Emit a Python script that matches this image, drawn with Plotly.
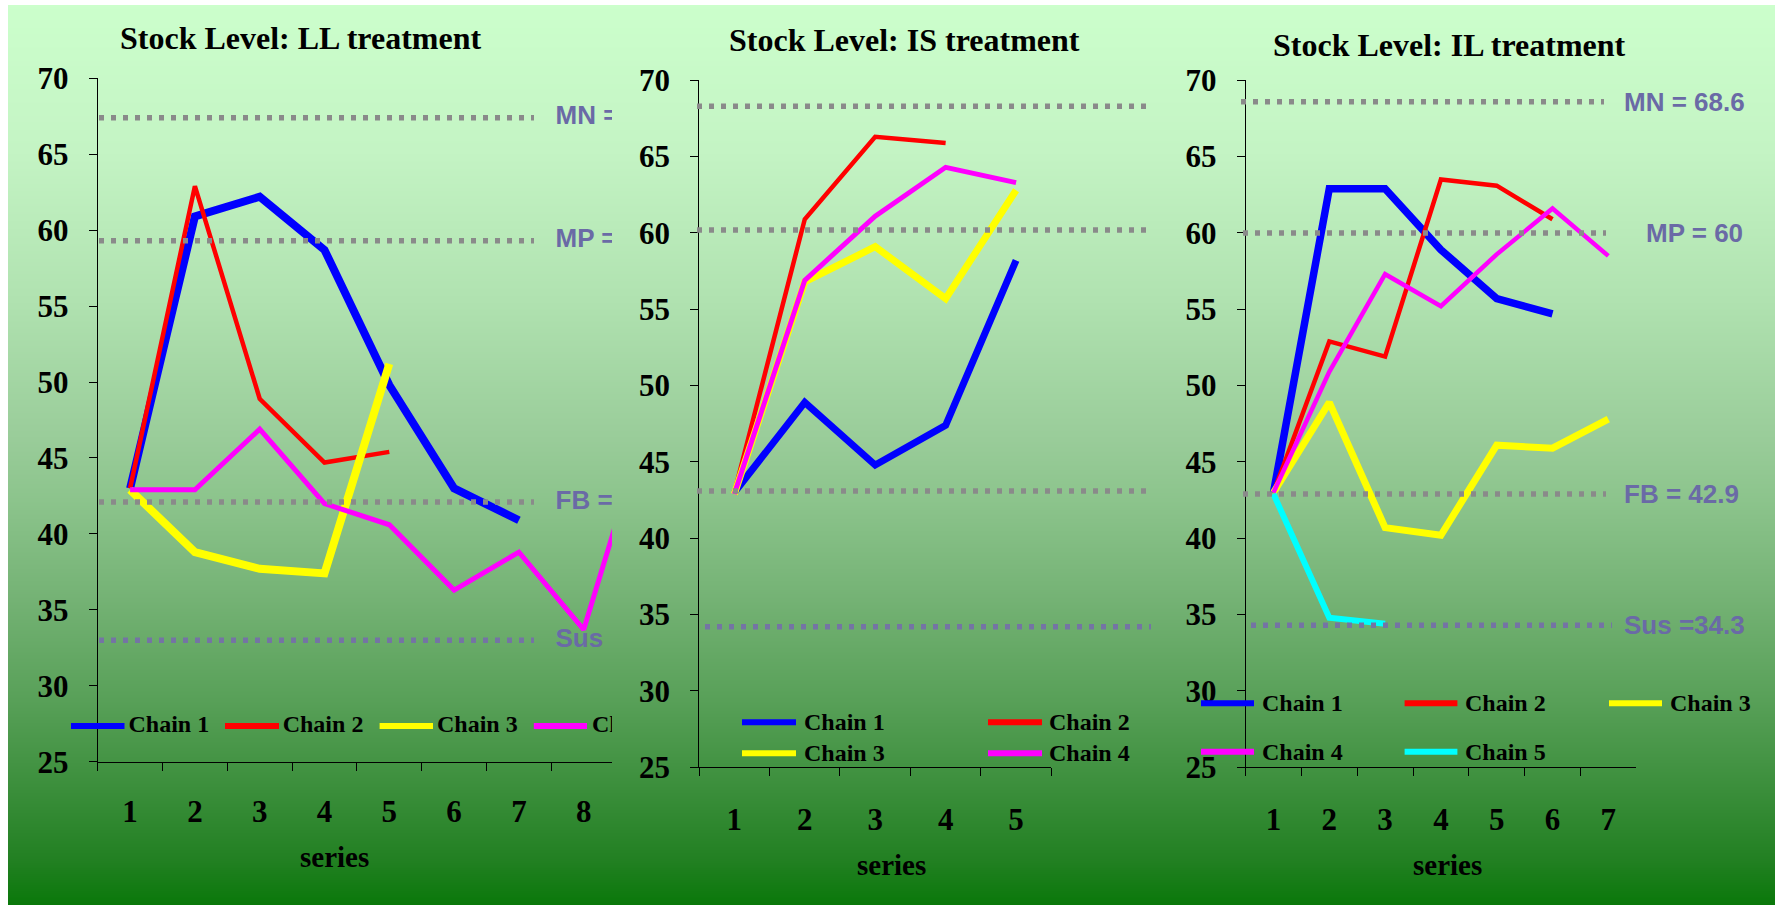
import base64
import struct
import zlib

import plotly.graph_objects as go

W, H = 1775, 905

# ---------------------------------------------------------------- data
SERIES = ["1", "2", "3", "4", "5", "6", "7", "8", "9"]
CHAIN_NAMES = ["Chain 1", "Chain 2", "Chain 3", "Chain 4", "Chain 5"]

# LL treatment
ll_chain1 = [43.0, 60.9, 62.2, 58.7, 49.8, 43.0, 40.9]
ll_chain2 = [43.0, 62.9, 48.9, 44.7, 45.4]
ll_chain3 = [42.9, 38.8, 37.7, 37.4, 51.2]
ll_chain4 = [42.9, 42.9, 46.9, 42.0, 40.6, 36.3, 38.8, 33.7, 47.7]
ll_ref_names = ["MN", "MP", "FB", "Sus"]
ll_ref_values = [67.4, 59.3, 42.1, 33.0]

# IS treatment
is_chain1 = [43.0, 48.9, 44.8, 47.4, 58.2]
is_chain2 = [43.0, 60.9, 66.3, 65.9]
is_chain3 = [42.9, 56.8, 59.1, 55.7, 62.8]
is_chain4 = [42.9, 56.9, 61.1, 64.3, 63.3]
is_ref_values = [68.3, 60.2, 43.1, 34.2]

# IL treatment
il_chain1 = [43.0, 62.9, 62.9, 58.9, 55.7, 54.7]
il_chain2 = [43.0, 52.9, 51.9, 63.5, 63.1, 60.9]
il_chain3 = [43.0, 48.9, 40.7, 40.2, 46.1, 45.9, 47.8]
il_chain4 = [43.0, 50.9, 57.3, 55.2, 58.6, 61.6, 58.5]
il_chain5 = [42.9, 34.8, 34.4]
il_ref_names = ["MN", "MP", "FB", "Sus"]
il_ref_values = [68.6, 60.0, 42.9, 34.3]

Y_MIN, Y_MAX, Y_STEP = 25, 70, 5

# ---------------------------------------------------------------- styles
CHAIN_COLORS = ["#0000FF", "#FF0000", "#FFFF00", "#FF00FF", "#00FFFF"]
SERIF = "Liberation Serif"
SANS = "Liberation Sans"
REF_LABEL_COLOR = "#6a6aa6"
REF_DOT_COLORS = ["#8a8a8a", "#8a8a8a", "#8a8a8a", "#7474a4"]


def px_x(px):
    return px / W


def px_y(py):
    return 1 - py / H


# vertical background gradient (light mint at the top, deep green at the bottom)
GRADIENT_STOPS = [
    (0, (204, 255, 204)), (150, (196, 244, 196)), (300, (176, 226, 176)),
    (440, (153, 204, 153)), (500, (140, 196, 140)), (600, (116, 178, 116)),
    (700, (88, 160, 88)), (780, (62, 144, 62)), (860, (34, 128, 34)),
    (905, (10, 120, 10)),
]


def gradient_uri(top, bottom, width=2):
    rows = []
    for i in range(bottom - top):
        y = top + i + 0.5
        for (y0, c0), (y1, c1) in zip(GRADIENT_STOPS, GRADIENT_STOPS[1:]):
            if y0 <= y <= y1:
                t = (y - y0) / (y1 - y0)
                rgb = [round(a + (b - a) * t) for a, b in zip(c0, c1)]
                break
        rows.append(b"\x00" + bytes(rgb) * width)

    def chunk(tag, data):
        return (struct.pack(">I", len(data)) + tag + data
                + struct.pack(">I", zlib.crc32(tag + data) & 0xFFFFFFFF))

    png = (b"\x89PNG\r\n\x1a\n"
           + chunk(b"IHDR", struct.pack(">IIBBBBB", width, bottom - top, 8, 2, 0, 0, 0))
           + chunk(b"IDAT", zlib.compress(b"".join(rows), 9))
           + chunk(b"IEND", b""))
    return "data:image/png;base64," + base64.b64encode(png).decode()


# panel geometry in page pixels
PANELS = [
    dict(xa="x", ya="y", left=97.7, right=612.0, top=78.3, bottom=761.7, span=64.8,
         title="Stock Level: LL treatment", title_xy=(300.5, 38), series_xy=(334, 857),
         chains=[ll_chain1, ll_chain2, ll_chain3, ll_chain4],
         widths=[8, 4.5, 8, 5]),
    dict(xa="x2", ya="y2", left=699.1, right=1051.3, top=80.3, bottom=767.3, span=70.44,
         title="Stock Level: IS treatment", title_xy=(904, 40), series_xy=(892, 865),
         chains=[is_chain1, is_chain2, is_chain3, is_chain4],
         widths=[7, 4.5, 7, 5]),
    dict(xa="x3", ya="y3", left=1245.6, right=1636.0, top=80.3, bottom=767.3, span=55.8,
         title="Stock Level: IL treatment", title_xy=(1449, 45), series_xy=(1447.5, 865),
         chains=[il_chain1, il_chain2, il_chain3, il_chain4, il_chain5],
         widths=[7.5, 4.5, 7, 4.5, 6]),
]

fig = go.Figure()
layout_axes = {}
shapes = []
annotations = []

for k, p in enumerate(PANELS):
    sfx = "" if k == 0 else str(k + 1)
    n_cat = (p["right"] - p["left"]) / p["span"]
    n_lab = min(len(SERIES), int(n_cat + 0.5))
    layout_axes["xaxis" + sfx] = dict(
        domain=[px_x(p["left"]), px_x(p["right"])],
        range=[0.5, 0.5 + n_cat],
        anchor=p["ya"],
        tickmode="array",
        tickvals=list(range(1, n_lab + 1)),
        ticktext=SERIES[:n_lab],
        ticks="",
        ticklabelstandoff=22 if k == 0 else 24,
        tickfont=dict(family=SERIF, size=31, color="black", weight="bold"),
        minor=dict(tickmode="linear", tick0=0.5, dtick=1, ticks="outside",
                   ticklen=8, tickwidth=1, tickcolor="black", showgrid=False),
        showline=True, linecolor="black", linewidth=1,
        showgrid=False, zeroline=False, fixedrange=True, automargin=False,
    )
    layout_axes["yaxis" + sfx] = dict(
        domain=[px_y(p["bottom"]), px_y(p["top"])],
        range=[Y_MIN, Y_MAX],
        anchor=p["xa"],
        tickmode="linear", tick0=Y_MIN, dtick=Y_STEP,
        ticks="outside", ticklen=8, tickwidth=1, tickcolor="black",
        ticklabelstandoff=14,
        tickfont=dict(family=SERIF, size=31, color="black", weight="bold"),
        showline=True, linecolor="black", linewidth=1,
        showgrid=False, zeroline=False, fixedrange=True, automargin=False,
    )

    for i, values in enumerate(p["chains"]):
        fig.add_trace(go.Scatter(
            x=list(range(1, len(values) + 1)), y=values,
            mode="lines", name=CHAIN_NAMES[i],
            line=dict(color=CHAIN_COLORS[i], width=p["widths"][i]),
            xaxis=p["xa"], yaxis=p["ya"], showlegend=False,
        ))

    annotations.append(dict(
        text=p["title"], xref="paper", yref="paper",
        x=px_x(p["title_xy"][0]), y=px_y(p["title_xy"][1]),
        xanchor="center", yanchor="middle", showarrow=False,
        font=dict(family=SERIF, size=32, color="black", weight="bold"),
    ))
    annotations.append(dict(
        text="series", xref="paper", yref="paper",
        x=px_x(p["series_xy"][0]), y=px_y(p["series_xy"][1]),
        xanchor="center", yanchor="middle", showarrow=False,
        font=dict(family=SERIF, size=29, color="black", weight="bold"),
    ))

# dotted reference levels
REF_EXTENTS = [
    [(99, 534)] * 4,
    [(697, 1153), (697, 1153), (697, 1153), (705, 1151)],
    [(1241, 1604), (1243, 1606), (1243, 1606), (1251, 1612)],
]
for p, values, extents in zip(PANELS, [ll_ref_values, is_ref_values, il_ref_values], REF_EXTENTS):
    for j, (v, (x0, x1)) in enumerate(zip(values, extents)):
        shapes.append(dict(
            type="line", xref="paper", yref=p["ya"],
            x0=px_x(x0), x1=px_x(x1), y0=v, y1=v,
            line=dict(color=REF_DOT_COLORS[j], width=5.5, dash="5px,7px"),
        ))

# IL level labels
IL_LABEL_X = [1622, 1644, 1622, 1622]
il_texts = [f"{nm} = {v:g}" for nm, v in zip(il_ref_names, il_ref_values)]
il_texts[3] = f"Sus ={il_ref_values[3]:g}"
for t, v, x in zip(il_texts, il_ref_values, IL_LABEL_X):
    annotations.append(dict(
        text=t, xref="paper", yref="y3", x=px_x(x), y=v,
        xanchor="left", yanchor="middle", showarrow=False,
        font=dict(family=SANS, size=26, color=REF_LABEL_COLOR, weight="bold"),
    ))


# legends: (row y, [(line x0, line x1, text x), ...])
def legend(panel_rows, chains, clip_trace=None):
    idx = 0
    for row_y, cols in panel_rows:
        for (lx0, lx1, tx) in cols:
            if idx >= chains:
                return
            shapes.append(dict(
                type="line", xref="paper", yref="paper",
                x0=px_x(lx0), x1=px_x(lx1), y0=px_y(row_y), y1=px_y(row_y),
                line=dict(color=CHAIN_COLORS[idx], width=6),
            ))
            if clip_trace is None:
                annotations.append(dict(
                    text=CHAIN_NAMES[idx], xref="paper", yref="paper",
                    x=px_x(tx), y=px_y(row_y), xanchor="left", yanchor="middle",
                    showarrow=False,
                    font=dict(family=SERIF, size=24, color="black", weight="bold"),
                ))
            else:
                clip_trace.append((tx, row_y, CHAIN_NAMES[idx]))
            idx += 1


legend([(722.3, [(742, 796, 801.6), (988, 1042, 1047)]),
        (753.3, [(742, 796, 801.6), (988, 1042, 1047)])], 4)
legend([(703.3, [(1201, 1254, 1259.5), (1404.6, 1457.4, 1463.2), (1609, 1662, 1667.7)]),
        (751.7, [(1201, 1254, 1259.5), (1404.6, 1457.4, 1463.2)])], 5)

# LL panel: its frame ends at x = 612, so its labels are drawn on an overlay
# axis with that same right edge and clipped there.
p0 = PANELS[0]


def y_from_px(py, p):
    return Y_MAX - (py - p["top"]) / (p["bottom"] - p["top"]) * (Y_MAX - Y_MIN)


ll_legend_items = []
legend([(726, [(71, 124.5, 128.5), (225, 279, 282.7), (379.6, 433, 437), (533.8, 587, 592)])],
       4, clip_trace=ll_legend_items)

ll_texts = [f"{nm} =" for nm in ll_ref_names]
ll_texts[3] = "Sus"
fig.add_trace(go.Scatter(
    x=[555.5] * 4, y=ll_ref_values, text=ll_texts, mode="text",
    textposition="middle right",
    textfont=dict(family=SANS, size=26, color=REF_LABEL_COLOR, weight="bold"),
    xaxis="x4", yaxis="y", cliponaxis=True, showlegend=False, hoverinfo="skip",
))
fig.add_trace(go.Scatter(
    x=[it[0] for it in ll_legend_items],
    y=[y_from_px(it[1], p0) for it in ll_legend_items],
    text=[it[2] for it in ll_legend_items], mode="text",
    textposition="middle right",
    textfont=dict(family=SERIF, size=24, color="black", weight="bold"),
    xaxis="x4", yaxis="y", cliponaxis=True, showlegend=False, hoverinfo="skip",
))
layout_axes["xaxis4"] = dict(domain=[px_x(8), px_x(612)], range=[8, 612],
                             anchor="y", visible=False, fixedrange=True,
                             automargin=False)

fig.update_layout(
    template="none",
    width=W, height=H, autosize=False,
    margin=dict(l=0, r=0, t=0, b=0, pad=0, autoexpand=False),
    paper_bgcolor="white", plot_bgcolor="rgba(0,0,0,0)",
    showlegend=False,
    shapes=shapes, annotations=annotations,
    images=[dict(source=gradient_uri(5, H), xref="paper", yref="paper",
                 x=px_x(8), y=px_y(5), sizex=px_x(W - 8), sizey=(H - 5) / H,
                 sizing="stretch", xanchor="left", yanchor="top", layer="below")],
    **layout_axes,
)

fig.write_html("out.html")
